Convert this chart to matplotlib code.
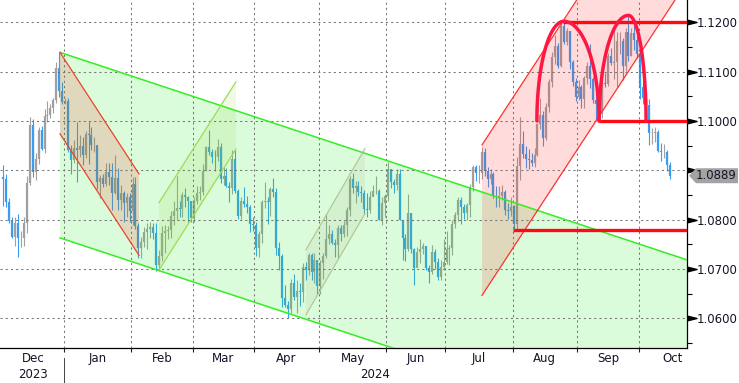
import numpy as np
import pandas as pd
import matplotlib
matplotlib.use('Agg')
import matplotlib.pyplot as plt
from matplotlib.patches import Polygon
from matplotlib.transforms import IdentityTransform

# EUR/USD daily bars, 1 Dec 2023 .. 15 Oct 2024 (business days)
first_open = 1.0887
close_px = [
    # Dec
    1.0883, 1.0835, 1.0797, 1.0764, 1.0794, 1.0762, 1.0763, 1.0793, 1.0874, 1.0992, 1.0896,
    1.0922, 1.0982, 1.0944, 1.1011, 1.1013, 1.1027, 1.1042, 1.1107, 1.1061, 1.1039,
    # Jan
    1.1040, 1.0942, 1.0920, 1.0946, 1.0941, 1.0950, 1.0930, 1.0973, 1.0972, 1.0951, 1.0952,
    1.0877, 1.0884, 1.0873, 1.0897, 1.0886, 1.0855, 1.0885, 1.0840, 1.0853, 1.0834, 1.0845, 1.0818,
    # Feb
    1.0873, 1.0787, 1.0743, 1.0755, 1.0774, 1.0782, 1.0785, 1.0772, 1.0708, 1.0727, 1.0772,
    1.0777, 1.0778, 1.0807, 1.0817, 1.0823, 1.0821, 1.0850, 1.0845, 1.0838, 1.0804,
    # Mar
    1.0838, 1.0855, 1.0856, 1.0899, 1.0948, 1.0938, 1.0927, 1.0926, 1.0947, 1.0883, 1.0888,
    1.0869, 1.0865, 1.0923, 1.0859, 1.0808, 1.0838, 1.0831, 1.0826, 1.0791, 1.0790,
    # Apr
    1.0742, 1.0770, 1.0836, 1.0837, 1.0836, 1.0862, 1.0856, 1.0743, 1.0726, 1.0642, 1.0626,
    1.0619, 1.0672, 1.0643, 1.0656, 1.0654, 1.0704, 1.0697, 1.0729, 1.0694, 1.0719, 1.0666,
    # May
    1.0713, 1.0727, 1.0760, 1.0770, 1.0753, 1.0749, 1.0783, 1.0771, 1.0789, 1.0820, 1.0883,
    1.0865, 1.0869, 1.0856, 1.0855, 1.0822, 1.0820, 1.0846, 1.0858, 1.0859, 1.0799, 1.0834, 1.0848,
    # Jun
    1.0902, 1.0876, 1.0870, 1.0892, 1.0800, 1.0763, 1.0741, 1.0813, 1.0741, 1.0702,
    1.0735, 1.0740, 1.0747, 1.0702, 1.0693, 1.0734, 1.0715, 1.0683, 1.0703, 1.0714,
    # Jul
    1.0740, 1.0742, 1.0791, 1.0810, 1.0840, 1.0826, 1.0814, 1.0829, 1.0867, 1.0907, 1.0894,
    1.0894, 1.0938, 1.0899, 1.0882, 1.0892, 1.0847, 1.0845, 1.0848, 1.0856, 1.0820, 1.0817, 1.0826,
    # Aug
    1.0791, 1.0909, 1.0954, 1.0934, 1.0923, 1.0920, 1.0915, 1.0932, 1.0994, 1.1013, 1.0966,
    1.1028, 1.1078, 1.1130, 1.1151, 1.1111, 1.1193, 1.1161, 1.1183, 1.1119, 1.1078, 1.1048,
    # Sep
    1.1068, 1.1045, 1.1088, 1.1111, 1.1085, 1.1042, 1.1035, 1.1014, 1.1076, 1.1074, 1.1132,
    1.1118, 1.1119, 1.1162, 1.1163, 1.1112, 1.1180, 1.1132, 1.1178, 1.1164, 1.1135,
    # Oct
    1.1068, 1.1047, 1.1032, 1.0975, 1.0975, 1.0978, 1.0940, 1.0937, 1.0937, 1.0910, 1.0889,
]
high_px = [
    1.0910, 1.0892, 1.0843, 1.0805, 1.0806, 1.0812, 1.0776, 1.0805, 1.0888, 1.1009, 1.1004,
    1.0935, 1.0988, 1.0989, 1.1024, 1.1040, 1.1035, 1.1046, 1.1120, 1.1139, 1.1078,
    1.1046, 1.1046, 1.0952, 1.0962, 1.0998, 1.0972, 1.0968, 1.0980, 1.0999, 1.0988, 1.0967,
    1.0950, 1.0890, 1.0893, 1.0915, 1.0915, 1.0914, 1.0932, 1.0905, 1.0871, 1.0858, 1.0855, 1.0855,
    1.0887, 1.0887, 1.0793, 1.0764, 1.0785, 1.0794, 1.0796, 1.0794, 1.0794, 1.0739, 1.0788,
    1.0789, 1.0787, 1.0818, 1.0838, 1.0888, 1.0837, 1.0857, 1.0864, 1.0848, 1.0838,
    1.0845, 1.0868, 1.0869, 1.0912, 1.0950, 1.0981, 1.0944, 1.0941, 1.0964, 1.0955, 1.0907,
    1.0905, 1.0877, 1.0942, 1.0942, 1.0862, 1.0845, 1.0866, 1.0848, 1.0830, 1.0805,
    1.0796, 1.0777, 1.0840, 1.0876, 1.0846, 1.0866, 1.0885, 1.0864, 1.0755, 1.0730, 1.0668,
    1.0635, 1.0680, 1.0690, 1.0678, 1.0672, 1.0713, 1.0715, 1.0732, 1.0733, 1.0732, 1.0717,
    1.0718, 1.0732, 1.0812, 1.0790, 1.0780, 1.0760, 1.0790, 1.0790, 1.0798, 1.0825, 1.0888,
    1.0895, 1.0878, 1.0878, 1.0869, 1.0861, 1.0853, 1.0858, 1.0870, 1.0889, 1.0862, 1.0845, 1.0852,
    1.0916, 1.0903, 1.0883, 1.0902, 1.0903, 1.0789, 1.0771, 1.0852, 1.0812, 1.0742,
    1.0745, 1.0761, 1.0753, 1.0747, 1.0709, 1.0748, 1.0740, 1.0723, 1.0718, 1.0761,
    1.0776, 1.0748, 1.0799, 1.0816, 1.0845, 1.0845, 1.0831, 1.0834, 1.0872, 1.0910, 1.0910,
    1.0911, 1.0948, 1.0946, 1.0906, 1.0902, 1.0897, 1.0869, 1.0869, 1.0871, 1.0860, 1.0834, 1.0845,
    1.0830, 1.0926, 1.1009, 1.0979, 1.0949, 1.0944, 1.0935, 1.0945, 1.0996, 1.1047, 1.1020,
    1.1037, 1.1085, 1.1139, 1.1174, 1.1159, 1.1201, 1.1202, 1.1189, 1.1181, 1.1124, 1.1087,
    1.1083, 1.1073, 1.1092, 1.1120, 1.1155, 1.1089, 1.1059, 1.1069, 1.1083, 1.1098, 1.1137,
    1.1148, 1.1189, 1.1180, 1.1180, 1.1169, 1.1189, 1.1214, 1.1189, 1.1209, 1.1178,
    1.1140, 1.1084, 1.1062, 1.1044, 1.0986, 1.0988, 1.0982, 1.0955, 1.0953, 1.0942, 1.0917,
]
low_px = [
    1.0828, 1.0826, 1.0793, 1.0762, 1.0746, 1.0724, 1.0744, 1.0746, 1.0772, 1.0870, 1.0887,
    1.0880, 1.0913, 1.0942, 1.0935, 1.0997, 1.1005, 1.1016, 1.1036, 1.1048, 1.1034,
    1.1035, 1.0937, 1.0892, 1.0915, 1.0877, 1.0926, 1.0910, 1.0925, 1.0912, 1.0942, 1.0937,
    1.0862, 1.0844, 1.0867, 1.0868, 1.0870, 1.0820, 1.0852, 1.0820, 1.0819, 1.0795, 1.0806, 1.0796,
    1.0790, 1.0781, 1.0723, 1.0722, 1.0744, 1.0740, 1.0762, 1.0761, 1.0696, 1.0695, 1.0716,
    1.0733, 1.0761, 1.0762, 1.0790, 1.0800, 1.0806, 1.0805, 1.0826, 1.0796, 1.0796,
    1.0796, 1.0831, 1.0840, 1.0850, 1.0898, 1.0930, 1.0914, 1.0898, 1.0918, 1.0874, 1.0871,
    1.0867, 1.0835, 1.0851, 1.0854, 1.0802, 1.0802, 1.0825, 1.0814, 1.0774, 1.0776,
    1.0726, 1.0724, 1.0752, 1.0823, 1.0792, 1.0808, 1.0846, 1.0728, 1.0698, 1.0622, 1.0622,
    1.0601, 1.0610, 1.0637, 1.0610, 1.0624, 1.0634, 1.0678, 1.0688, 1.0678, 1.0672, 1.0650,
    1.0650, 1.0680, 1.0723, 1.0750, 1.0750, 1.0724, 1.0723, 1.0757, 1.0764, 1.0767, 1.0807,
    1.0853, 1.0834, 1.0848, 1.0835, 1.0812, 1.0805, 1.0813, 1.0848, 1.0852, 1.0799, 1.0790, 1.0805,
    1.0838, 1.0865, 1.0854, 1.0861, 1.0800, 1.0719, 1.0717, 1.0736, 1.0733, 1.0668,
    1.0703, 1.0713, 1.0730, 1.0697, 1.0671, 1.0690, 1.0699, 1.0678, 1.0677, 1.0698,
    1.0710, 1.0709, 1.0728, 1.0783, 1.0798, 1.0791, 1.0802, 1.0800, 1.0806, 1.0858, 1.0879,
    1.0875, 1.0883, 1.0888, 1.0867, 1.0873, 1.0843, 1.0825, 1.0826, 1.0840, 1.0810, 1.0802, 1.0808,
    1.0777, 1.0780, 1.0880, 1.0925, 1.0905, 1.0902, 1.0908, 1.0907, 1.0928, 1.0984, 1.0949,
    1.0961, 1.1018, 1.1069, 1.1116, 1.1107, 1.1109, 1.1156, 1.1153, 1.1105, 1.1071, 1.1041,
    1.1043, 1.1026, 1.1026, 1.1075, 1.1067, 1.1037, 1.1002, 1.1001, 1.1006, 1.1068, 1.1070,
    1.1114, 1.1086, 1.1068, 1.1136, 1.1083, 1.1102, 1.1122, 1.1132, 1.1144, 1.1127,
    1.1045, 1.1034, 1.1006, 1.0952, 1.0954, 1.0958, 1.0937, 1.0918, 1.0924, 1.0898, 1.0882,
]
y_ticks = [1.06, 1.07, 1.08, 1.09, 1.10, 1.11, 1.12]

# drawn studies: (start day, end day, start price, slope per day, width)
big_channel = (19.27, None, 1.1139, -0.0001968, -0.0376)
dec_channel = (19.27, 46.2, 1.1139, -0.000915, -0.0165)
feb_channel = (53.0, 79.25, 1.0698, 0.000934, 0.01363)
apr_channel = (103.1, 123.2, 1.0607, 0.00102, 0.0132)
jul_channel = (163.1, None, 1.06465, 0.00091, 0.0305)
levels = [(1.1200, 190.7), (1.1000, 203.0), (1.0778, 173.8)]
arcs = [(181.8, 191.0, 203.0, 1.1000, 1.1202), (203.0, 213.0, 219.0, 1.1000, 1.1214)]

TXT = '#141428'
plt.rcParams['font.family'] = ['DejaVu Sans']

dates = pd.bdate_range('2023-12-01', '2024-10-15')
x = np.arange(len(dates))
c = np.array(close_px)
h = np.array(high_px)
l = np.array(low_px)
o = np.r_[first_open, c[:-1]]
cols = np.where(c >= o, '#a0a0a0', '#3a9cf2')

X_LEFT, X_RIGHT = -1.18, 232.96
fig = plt.figure(figsize=(7.39, 3.83), dpi=100)
ax = fig.add_axes([0, 35 / 383, 687 / 739, 348 / 383])
ax.set_xlim(X_LEFT, X_RIGHT)
ax.set_ylim(1.05398, 1.12452)

ax.vlines(x, l, h, colors=cols, lw=0.8, zorder=1)
ax.vlines(x, np.minimum(o, c), np.maximum(o, c), colors=cols, lw=1.6, zorder=1)


def channel(ch, line_col, fill_col, alpha, lw=0.9):
    x0, x1, p0, s, w = ch
    if x1 is None:
        x1 = X_RIGHT
    p1 = p0 + s * (x1 - x0)
    ax.add_patch(Polygon([(x0, p0), (x1, p1), (x1, p1 + w), (x0, p0 + w)],
                         closed=True, fc=fill_col, alpha=alpha, lw=0, zorder=2))
    ax.plot([x0, x1], [p0, p1], color=line_col, lw=lw, zorder=3)
    ax.plot([x0, x1], [p0 + w, p1 + w], color=line_col, lw=lw, zorder=3)


channel(big_channel, '#33ee22', '#22ee22', 0.16, lw=1.1)
channel(dec_channel, '#e8452a', '#ff2020', 0.16)
channel(feb_channel, '#99dd55', '#99cc33', 0.13)
channel(apr_channel, '#b4c894', '#999966', 0.10)
channel(jul_channel, '#ff3030', '#ff2020', 0.16)

for price, start in levels:
    ax.plot([start, X_RIGHT], [price, price], color='#ff0a14', lw=2.4, zorder=4,
            solid_capstyle='butt')

for left, peak, right, base, top in arcs:
    t = np.linspace(0, np.pi, 80)
    w = np.where(t < np.pi / 2, right - peak, peak - left)
    ax.plot(peak + w * np.cos(t), base + (top - base) * np.sin(t),
            color='#ff1744', lw=2.5, zorder=5, solid_capstyle='round')

# months
periods = dates.to_period('M')
months = periods.unique()
bounds, centers, names = [], [], []
for m in months:
    first = np.where(periods == m)[0][0]
    full = len(pd.bdate_range(m.start_time, m.end_time))
    bounds.append(first - 0.5)
    centers.append(first - 0.5 + full / 2)
    names.append(m.strftime('%b'))

ax.set_xticks(bounds[1:])
ax.set_xticklabels([])
ax.set_xticks(centers, minor=True)
ax.set_xticklabels(names, minor=True)
ax.tick_params(axis='x', which='major', length=3, width=0.8, color='#222222')
ax.tick_params(axis='x', which='minor', length=0, pad=3, labelsize=8.5, labelcolor=TXT)

xt = ax.get_xaxis_transform()
ax.text(centers[0], -0.076, '2023', transform=xt, ha='center', va='center',
        fontsize=8.5, color=TXT)
ax.text((bounds[1] + X_RIGHT) / 2, -0.076, '2024', transform=xt, ha='center',
        va='center', fontsize=8.5, color=TXT)
ax.plot([bounds[1], bounds[1]], [-0.03, -0.11], transform=xt, clip_on=False,
        color='#444444', lw=0.7)

# the 1.0900 label sits under the last-price tag, as in the terminal
ax.yaxis.tick_right()
ax.set_yticks(y_ticks)
ax.set_yticklabels(['' if v == 1.09 else '%.4f' % v for v in y_ticks])
ax.set_yticks([v + 0.005 for v in [1.05] + y_ticks[:-1]], minor=True)
ax.tick_params(axis='y', which='major', length=0, pad=6.8, labelsize=8.5, labelcolor=TXT)
ax.tick_params(axis='y', which='minor', length=3.6, width=0.8, color='black')

tri = [(-1, -0.5), (1, 0), (-1, 0.5)]
ax.plot([1.0068] * len(y_ticks), y_ticks, ls='none', marker=tri, ms=6.5, color='black',
        transform=ax.get_yaxis_transform(), clip_on=False)

ax.grid(True, which='major', color='#747474', lw=0.75, linestyle=(0, (2, 3)))
ax.set_axisbelow(False)
for side in ['left', 'top']:
    ax.spines[side].set_visible(False)
for side in ['right', 'bottom']:
    ax.spines[side].set_linewidth(0.9)

# last price tag
px_right = ax.transAxes.transform((1, 0))[0]
py = ax.transData.transform((0, c[-1]))[1]
tag = [(px_right + 2, py), (px_right + 9, py + 7.5), (px_right + 51, py + 7.5),
       (px_right + 51, py - 7.5), (px_right + 9, py - 7.5)]
fig.add_artist(Polygon(tag, closed=True, transform=IdentityTransform(), fc='#a3a3a3',
                       ec='none', zorder=10))
fig.text(px_right + 29, py, '%.4f' % c[-1], transform=IdentityTransform(), ha='center',
         va='center', fontsize=8.5, color=TXT, zorder=11)

fig.savefig('out.png', dpi=100, facecolor='white')
